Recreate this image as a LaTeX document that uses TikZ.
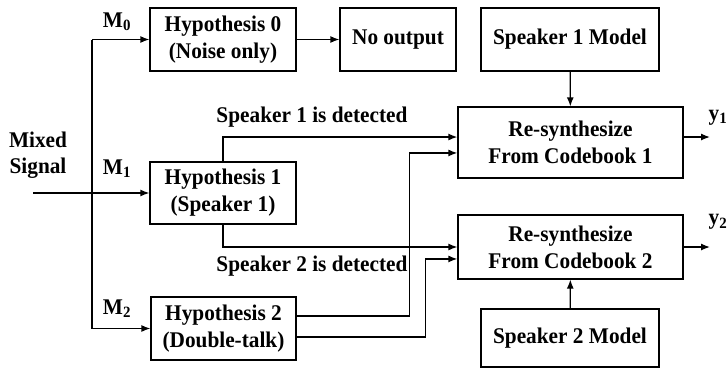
\documentclass[tikz,border=0pt]{standalone}
\usepackage{fontspec}
\setmainfont[FakeStretch=0.95]{Liberation Serif}
\usetikzlibrary{shapes,arrows,arrows.meta}
\usetikzlibrary{calc,positioning}

\begin{document}
\begin{tikzpicture}[x=1bp,y=-1bp]
    \tikzstyle{block} = [draw, line width=1.3bp, align=center, inner sep=0pt,
                         font=\fontsize{22.5}{27}\selectfont\bfseries]
    \tikzstyle{lbl} = [inner sep=0pt, align=center, font=\fontsize{22.5}{26}\selectfont\bfseries]
    \tikzstyle{wire} = [line width=1.3bp, >={Latex[length=9bp,width=7bp]}]

    \useasboundingbox (0,0) rectangle (728,368);

    % Hypotheses .........................
	\node[block, minimum width=146bp, minimum height=63bp] (hyp0) at (223,39.5) {Hypothesis 0\\(Noise only)};
	\node[block, minimum width=146bp, minimum height=62bp] (hyp1) at (223,193) {Hypothesis 1\\(Speaker 1)};
	\node[block, minimum width=145bp, minimum height=63bp] (hyp2) at (223.5,328.5) {Hypothesis 2\\(Double-talk)};
	\node[block, minimum width=116bp, minimum height=63bp] (noout) at (398,39.5) {No output};

    % Re-synthesis .........................
	\node[block, minimum width=178bp, minimum height=63bp] (spk1) at (570,39.5) {Speaker 1 Model};
	\node[block, minimum width=225bp, minimum height=71bp] (res1) at (570.5,142.5) {Re-synthesize\\From Codebook 1};
	\node[block, minimum width=225bp, minimum height=64bp] (res2) at (570.5,247) {Re-synthesize\\From Codebook 2};
	\node[block, minimum width=178bp, minimum height=58bp] (spk2) at (570,338) {Speaker 2 Model};

	\node[lbl] (mix) at (38,155) {Mixed\\Signal};
	\node[lbl] (m0) at (117,22) {M\textsubscript{0}};
	\node[lbl] (m1) at (117,169) {M\textsubscript{1}};
	\node[lbl] (m2) at (117,309) {M\textsubscript{2}};
	\node[lbl] (det1) at (312,117) {Speaker 1 is detected};
	\node[lbl] (det2) at (312,266) {Speaker 2 is detected};
	\node[lbl] (y1) at (718,118) {y\textsubscript{1}};
	\node[lbl] (y2) at (718,222) {y\textsubscript{2}};

	\coordinate (in) at (33,193);
	\coordinate (top) at (92,39.5);
	\coordinate (bot) at (92,328.5);
	\coordinate (out1) at (710,137);
	\coordinate (out2) at (710,247);

	 \draw[wire,->] (in) -- (hyp1.west);
	 \draw[wire] (top) -- (bot);
	 \draw[wire,->] (top) -- (hyp0.west);
	 \draw[wire,->] (bot) -- (hyp2.west);
	 \draw[wire,->] (hyp0) -- (noout);

	 \draw[wire,->] (hyp1.north) |- ([yshift=5.5pt]res1.west);
	 \draw[wire,->] (hyp1.south) |- (res2.west);
	 \draw[wire,->] ([yshift=12.5pt]hyp2.east) -| ([xshift=-48pt,yshift=-10.5pt]res1.west) -- ([yshift=-10.5pt]res1.west);
	 \draw[wire,->] ([yshift=-8.5pt]hyp2.east) -| ([xshift=-32pt,yshift=-12pt]res2.west) -- ([yshift=-12pt]res2.west);

	 \draw[wire,->] (spk1) -- (res1);
	 \draw[wire,->] (spk2) -- (res2);
	 \draw[wire,->] (res1.east |- out1) -- (out1);
	 \draw[wire,->] (res2.east |- out2) -- (out2);

\end{tikzpicture}
\end{document}
